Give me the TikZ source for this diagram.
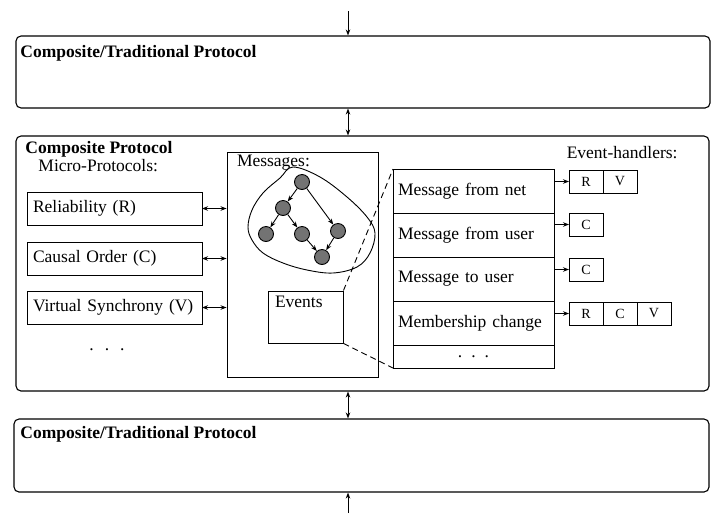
\documentclass[tikz,border=0pt]{standalone}
\usepackage{fontspec}
\setmainfont{Liberation Serif}
\usetikzlibrary{positioning,arrows.meta}

\begin{document}
\begin{tikzpicture}[x=1pt,y=-1pt,line width=0.9pt]
% Box style
\tikzset{
    every node/.style={font=\fontsize{17.5}{20}\selectfont},
    protocol/.style={draw, rounded corners=5pt, line width=1.1pt, inner sep=0pt},
    ttl/.style={right, inner sep=0pt, font=\fontsize{17.5}{20}\selectfont\bfseries},
    micro/.style={draw, outer sep=0pt, minimum height=33, text width=163, inner xsep=6pt, align=left},
    evrow/.style={draw, outer sep=0pt, minimum height=44, text width=151, inner xsep=5pt, align=left},
    cell/.style={draw, outer sep=0pt, minimum width=34, minimum height=23, inner sep=0pt, font=\fontsize{14}{16}\selectfont},
    msgnode/.style={circle, draw, fill=black!55, minimum size=15, inner sep=0pt},
    arr/.style={-{Stealth[length=6pt,width=4.5pt]}},
    dbl/.style={{Stealth[length=6pt,width=4.5pt]}-{Stealth[length=6pt,width=4.5pt]}}
}
\useasboundingbox (0,0) rectangle (711,520);
% Protocol layers
\node[protocol, minimum width=694, minimum height=72] (PRa) at (363,72){};
\node[protocol, minimum width=693, minimum height=255] (PRb) at (362.5,263.5){};
\node[protocol, minimum width=695, minimum height=73] (PRc) at (361.5,455.5){};
\node[ttl] (TTa) at (20,53){Composite/Traditional Protocol};
\node[ttl] (TTb) at (25,149){Composite Protocol};
\node[ttl] (TTc) at (20,434){Composite/Traditional Protocol};
% Layer connection
\coordinate (INa) at (348,11);
\coordinate (INb) at (348,513);
\draw[arr] (INa) -- (INa |- PRa.north);
\draw[dbl] (INa |- PRa.south) -- (INa |- PRb.north);
\draw[dbl] (INa |- PRb.south) -- (INa |- PRc.north);
\draw[arr] (INb) -- (INb |- PRc.south);
% Micro-protocols
\node[right, inner sep=0pt] (MPt) at (38,166){Micro-Protocols:};
\node[micro] (MPa) at (114.5,208.5){Reliability (R)};
\node[micro] (MPb) at (114.5,258.5){Causal Order (C)};
\node[micro] (MPc) at (114.5,307.5){Virtual Synchrony (V)};
\node[inner sep=0pt] (MPd) at (107,350){.\hspace{11pt}.\hspace{11pt}.};
% Messages
\node[draw, minimum width=151, minimum height=225, inner sep=0pt] (MSG) at (302.5,264.5){};
\node[below right=1pt and 8pt of MSG.north west, inner sep=2pt] (MSt){Messages:};
\draw plot[smooth cycle, tension=0.6] coordinates {(293,167) (320,177) (347,197) (367,217) (375,233)
    (370,253) (357,267) (333,273) (307,270) (283,263) (263,253) (252,240) (248,227) (252,210) (263,193) (280,178)};
\node[msgnode] (MSa) at (302,182){};
\node[msgnode] (MSb) at (283,208){};
\node[msgnode] (MSc) at (266,234){};
\node[msgnode] (MSd) at (302,234){};
\node[msgnode] (MSe) at (338,231){};
\node[msgnode] (MSf) at (322,257){};
\draw[arr] (MSa) -- (MSb);
\draw[arr] (MSa) -- (MSe);
\draw[arr] (MSb) -- (MSc);
\draw[arr] (MSb) -- (MSd);
\draw[arr] (MSd) -- (MSf);
\draw[arr] (MSe) -- (MSf);
\node[draw, minimum width=75, minimum height=52, inner sep=0pt] (EVT) at (305.5,317){};
\node[below right=3pt and 5pt of EVT.north west, inner sep=2pt] (EVTt){Events};
\draw[dbl] (MPa.east) -- (MPa.east -| MSG.west);
\draw[dbl] (MPb.east) -- (MPb.east -| MSG.west);
\draw[dbl] (MPc.east) -- (MPc.east -| MSG.west);
% Event table
\node[evrow] (EVa) at (473.5,191){Message from net};
\node[evrow, below=0pt of EVa] (EVb){Message from user};
\node[evrow, below=0pt of EVb] (EVc){Message to user};
\node[evrow, below=0pt of EVc] (EVd){Membership change};
\node[evrow, below=0pt of EVd, minimum height=23, align=center] (EVe){.\hspace{9pt}.\hspace{9pt}.};
\draw[dashed, dash pattern=on 6pt off 4pt] (EVT.north east) -- (EVa.north west);
\draw[dashed, dash pattern=on 6pt off 4pt] (EVT.south east) -- (EVe.south west);
% Event handlers
\node[left, inner sep=2pt] (EHt) at (680,153){Event-handlers:};
\node[cell] (HAa) at (586,181.5){R};
\node[cell, right=0pt of HAa] (HAb){V};
\node[cell] (HBa) at (586,224.5){C};
\node[cell] (HCa) at (586,269.5){C};
\node[cell] (HDa) at (586,313.5){R};
\node[cell, right=0pt of HDa] (HDb){C};
\node[cell, right=0pt of HDb] (HDc){V};
\draw[arr] (HAa.west -| EVa.east) -- (HAa.west);
\draw[arr] (HBa.west -| EVb.east) -- (HBa.west);
\draw[arr] (HCa.west -| EVc.east) -- (HCa.west);
\draw[arr] (HDa.west -| EVd.east) -- (HDa.west);
\end{tikzpicture}
\end{document}
